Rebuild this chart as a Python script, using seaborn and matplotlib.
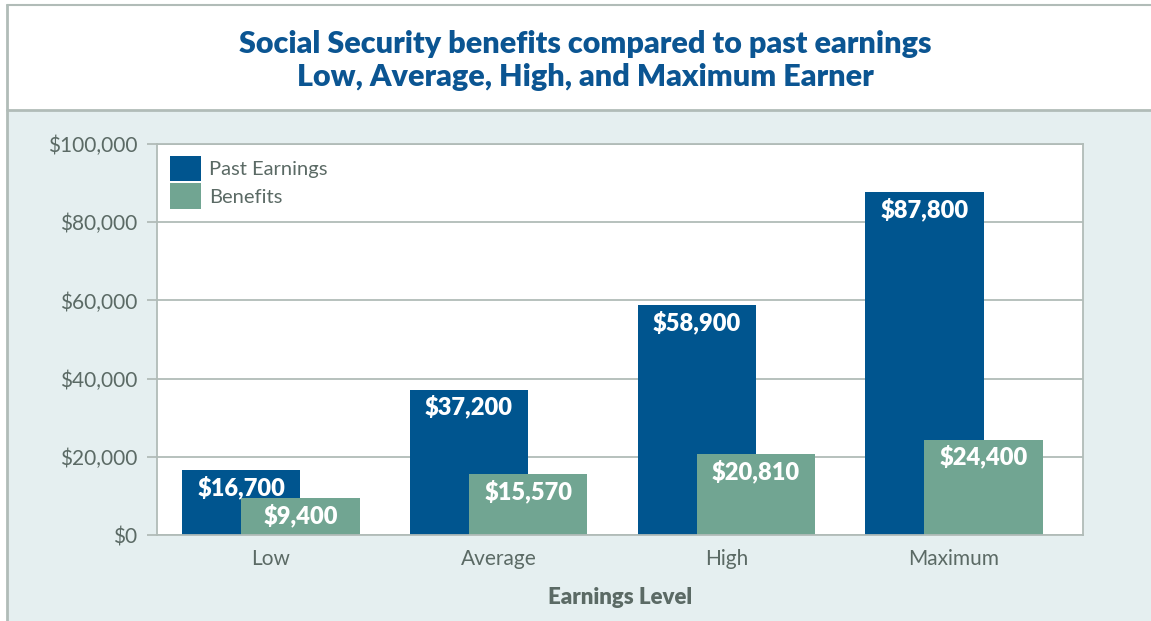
import numpy as np
import pandas as pd
import matplotlib
matplotlib.use("Agg")
import matplotlib.pyplot as plt
import seaborn as sns
from matplotlib.patches import Rectangle
from matplotlib.lines import Line2D
from matplotlib.ticker import FuncFormatter, FixedLocator

# Data
levels = ["Low", "Average", "High", "Maximum"]
past_earnings = [16700, 37200, 58900, 87800]
benefits = [9400, 15570, 20810, 24400]
y_ticks = [0, 20000, 40000, 60000, 80000, 100000]

# Styling
BLUE = "#00558f"
GREEN = "#71a592"
TITLE = "#0b5592"
TEXT = "#5b6a65"
LINE = "#b1bcb8"
BG = "#e5eff0"

sns.set_style("white")
plt.rcParams["font.family"] = ["Lato", "DejaVu Sans"]

W, H = 1151, 621
fig = plt.figure(figsize=(W / 100, H / 100), dpi=100, facecolor="white")

# Panel background and frame lines (figure pixel coords -> fraction)
def fx(px):
    return px / W

def fy(py):
    return 1 - py / H

fig.patches.append(Rectangle((fx(8), 0), 1 - fx(8), fy(111), transform=fig.transFigure,
                             facecolor=BG, edgecolor="none", zorder=-10))
fig.lines.append(Line2D([fx(7), 1], [fy(5), fy(5)], transform=fig.transFigure, color=LINE, lw=1.5, zorder=-5))
fig.lines.append(Line2D([fx(7), 1], [fy(110), fy(110)], transform=fig.transFigure, color=LINE, lw=2, zorder=-5))
fig.lines.append(Line2D([fx(7), fx(7)], [0, fy(5)], transform=fig.transFigure, color=LINE, lw=2, zorder=-5))

fig.text(fx(585), fy(44), "Social Security benefits compared to past earnings", ha="center", va="center",
         color=TITLE, fontsize=22, fontweight="heavy")
fig.text(fx(585), fy(77), "Low, Average, High, and Maximum Earner", ha="center", va="center",
         color=TITLE, fontsize=22, fontweight="heavy")

ax = fig.add_axes([fx(157), fy(535), fx(1083) - fx(157), (535 - 144) / H], zorder=5)
ax.set_facecolor("white")

pos = np.arange(len(levels))
shift = 0.13
sns.barplot(x=pos - shift, y=past_earnings, native_scale=True, width=0.52, color=BLUE,
            saturation=1, errorbar=None, ax=ax, label="Past Earnings", legend=False, linewidth=0)
sns.barplot(x=pos + shift, y=benefits, native_scale=True, width=0.52, color=GREEN,
            saturation=1, errorbar=None, ax=ax, label="Benefits", legend=False, linewidth=0)

for container in ax.containers:
    for rect in container:
        v = rect.get_height()
        ax.annotate(f"${v:,.0f}", xy=(rect.get_x() + rect.get_width() / 2, v),
                    xytext=(0, -12.5), textcoords="offset points", ha="center", va="center",
                    color="white", fontsize=17, fontweight="heavy", zorder=5)

ax.set_xlim(-0.5, 3.566)
ax.set_ylim(0, 100000)
ax.set_axisbelow(True)
ax.yaxis.set_major_locator(FixedLocator(y_ticks))
ax.yaxis.set_major_formatter(FuncFormatter(lambda v, p: f"${v:,.0f}"))
ax.grid(axis="y", color=LINE, lw=1.3)
ax.grid(axis="x", visible=False)

ax.set_xticks(pos)
ax.set_xticklabels(levels)
ax.set_xticks([-0.5, 0.5, 1.5, 2.5], minor=True)
ax.tick_params(axis="x", which="major", length=0, pad=10, labelsize=15, labelcolor=TEXT)
ax.tick_params(axis="x", which="minor", length=9.5, width=1.3, color=LINE, direction="out")
ax.tick_params(axis="y", which="major", length=7, width=1.3, color=LINE, direction="out",
               pad=7, labelsize=15, labelcolor=TEXT, left=True)

for s in ax.spines.values():
    s.set_visible(True)
    s.set_color(LINE)
    s.set_linewidth(1.3)

ax.set_xlabel("Earnings Level", fontsize=16, fontweight="heavy", color=TEXT, labelpad=13)
ax.set_ylabel("")

leg = ax.legend(loc="upper left", bbox_to_anchor=(0.014, 0.969), frameon=False, borderpad=0,
                borderaxespad=0, handlelength=1.55, handleheight=1.55, handletextpad=0.4,
                labelspacing=0.1, fontsize=14.5)
for t in leg.get_texts():
    t.set_color(TEXT)

fig.savefig("out.png", dpi=100, facecolor=fig.get_facecolor())
